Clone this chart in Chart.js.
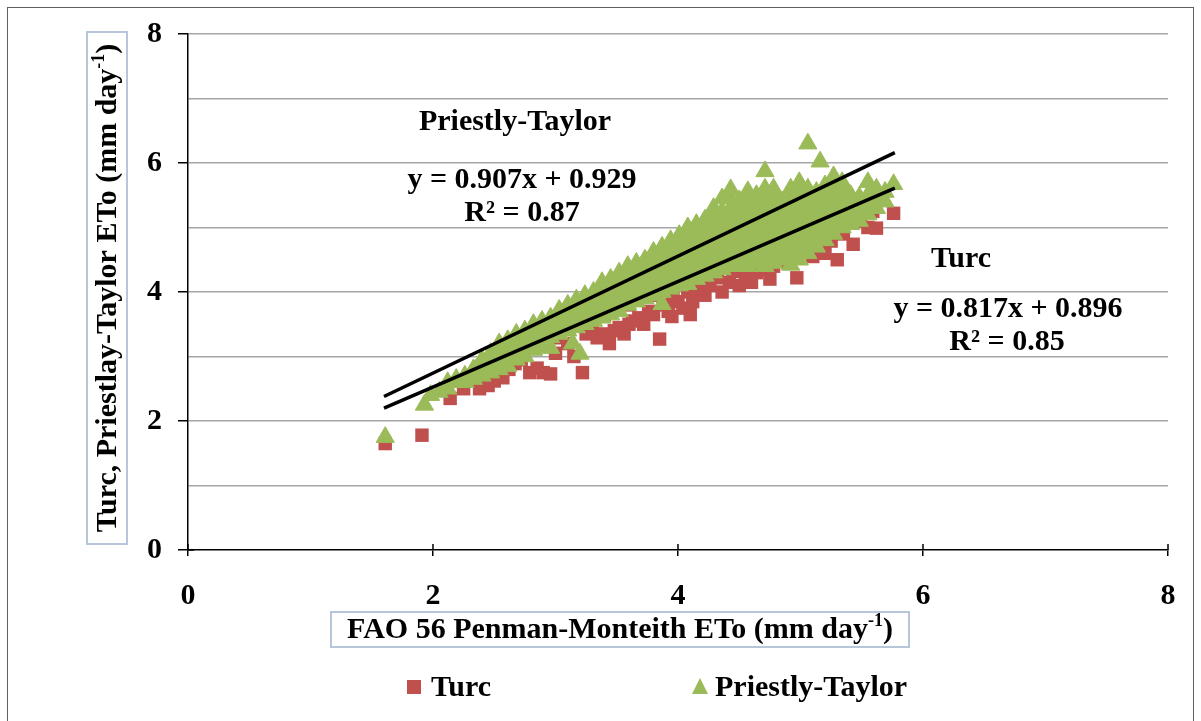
<!DOCTYPE html>
<html><head><meta charset="utf-8">
<script src="https://cdn.jsdelivr.net/npm/chart.js@4.4.0/dist/chart.umd.min.js"></script>
<style>html,body{margin:0;padding:0;background:#fff;}canvas{display:block;}</style>
</head><body>
<canvas id="c" width="1201" height="721"></canvas>
<script>
// ---------------- data ----------------
const xTickValues = [0, 2, 4, 6, 8];
const yTickValues = [0, 2, 4, 6, 8];
const seriesNames = ['Turc', 'Priestly-Taylor'];
const xTitleMain = 'FAO 56 Penman-Monteith ETo (mm day';
const yTitleMain = 'Turc, Priestlay-Taylor ETo (mm day';
const titleSup = '-1';

// Turc ETo vs FAO-56 PM ETo  [x, y]
const turcPts = [
[1.61,1.65],[1.91,1.78],[2.14,2.35],[2.25,2.5],[2.38,2.5],[2.45,2.55],[2.5,2.62],[2.57,2.67],[2.62,2.8],[2.67,2.89],
[2.72,2.95],[2.79,2.75],[2.85,2.82],[2.9,2.75],[2.96,2.73],[3.0,3.05],[3.04,3.29],[3.1,3.2],[3.15,3.0],[3.22,2.75],
[3.25,3.35],[3.3,3.4],[3.34,3.29],[3.38,3.35],[3.44,3.2],[3.48,3.4],[3.52,3.45],[3.56,3.35],[3.6,3.5],[3.63,3.55],
[3.68,3.6],[3.72,3.5],[3.76,3.7],[3.8,3.65],[3.85,3.27],[3.88,3.8],[3.92,3.7],[3.95,3.62],[3.96,3.9],[4.0,3.85],
[4.04,3.75],[4.08,4.0],[4.1,3.65],[4.12,3.85],[4.15,4.05],[4.18,4.12],[4.22,3.95],[4.26,4.1],[4.32,4.22],[4.36,4.0],
[4.42,4.15],[4.45,4.32],[4.5,4.1],[4.55,4.25],[4.6,4.15],[4.64,4.3],[4.7,4.35],[4.75,4.2],[4.78,4.4],[4.85,4.5],
[4.9,4.45],[4.97,4.22],[5.02,4.65],[5.1,4.55],[5.15,4.75],[5.2,4.6],[5.25,4.79],[5.3,4.5],[5.35,4.9],[5.43,4.74],
[5.49,5.1],[5.55,5.0],[5.59,5.25],[5.62,4.99],[5.76,5.22],[5.27,5.37],[5.45,5.3],[5.0,5.05],[4.8,4.85],[4.6,4.7],
[4.4,4.5],[4.2,4.35],[4.0,4.15],[3.8,3.95],[3.6,3.8],[3.4,3.65],[3.2,3.5],[3.0,3.3],[2.8,3.15],[2.6,3.0],[2.4,2.85]
];

// Priestly-Taylor ETo: each entry = [x, [y values read at that x]]
const ptCols = [
[1.61,[1.75]],[1.93,[2.25]],[1.98,[2.4]],[2.05,[2.45]],[2.12,[2.5,2.6]],[2.19,[2.6,2.65]],[2.26,[2.6,2.7]],
[2.33,[2.65,2.8]],[2.40,[2.7,2.85,2.95]],[2.47,[2.75,2.9,3.05]],[2.54,[2.8,2.95,3.1,3.2]],[2.61,[2.85,3.0,3.15,3.25]],
[2.68,[2.95,3.1,3.25,3.35]],[2.75,[3.0,3.15,3.3,3.4]],[2.82,[3.1,3.25,3.4,3.5]],[2.89,[3.15,3.3,3.45,3.55]],
[2.96,[3.13,3.3,3.45,3.6]],[3.03,[3.35,3.5,3.65,3.72]],[3.10,[3.4,3.55,3.7,3.8]],[3.14,[3.2]],[3.17,[3.45,3.6,3.75,3.88]],
[3.20,[3.04]],[3.24,[3.5,3.65,3.8,3.95]],[3.31,[3.55,3.7,3.85,4.0]],[3.38,[3.6,3.75,3.9,4.05,4.15]],
[3.45,[3.65,3.8,3.95,4.1,4.2]],[3.52,[3.7,3.85,4.0,4.15,4.3]],[3.59,[3.8,3.95,4.1,4.25,4.4]],[3.66,[3.85,4.0,4.15,4.3,4.45]],
[3.73,[3.9,4.05,4.2,4.35,4.5]],[3.80,[3.95,4.1,4.25,4.4,4.55,4.62]],[3.87,[3.81,4.0,4.15,4.3,4.45,4.6,4.7]],
[3.94,[4.05,4.2,4.35,4.5,4.65,4.8]],[4.01,[4.1,4.25,4.4,4.55,4.7,4.88]],[4.08,[4.12,4.3,4.45,4.6,4.75,4.9,5.0]],
[4.15,[4.2,4.35,4.5,4.65,4.8,4.95,5.05]],[4.22,[4.25,4.4,4.55,4.7,4.85,5.0,5.12]],[4.29,[4.3,4.45,4.6,4.75,4.9,5.05,5.2,5.3]],
[4.36,[4.35,4.5,4.65,4.8,4.95,5.1,5.25,5.45]],[4.43,[4.4,4.55,4.7,4.85,5.0,5.15,5.3,5.45,5.59]],
[4.50,[4.4,4.55,4.7,4.85,5.0,5.15,5.3,5.42]],[4.57,[4.4,4.55,4.7,4.85,5.0,5.15,5.3,5.45,5.56]],
[4.64,[4.45,4.6,4.75,4.9,5.05,5.2,5.35,5.5]],[4.71,[4.4,4.55,4.7,4.85,5.0,5.15,5.3,5.45,5.6,5.87]],
[4.78,[4.45,4.6,4.75,4.9,5.05,5.2,5.35,5.5,5.6]],[4.85,[4.5,4.65,4.8,4.95,5.1,5.25,5.4]],
[4.92,[4.42,4.6,4.75,4.9,5.05,5.2,5.35,5.5,5.6]],[4.99,[4.5,4.7,4.85,5.0,5.15,5.3,5.45,5.6,5.7]],
[5.06,[4.6,4.75,4.9,5.05,5.2,5.35,5.5,5.6,6.3]],[5.13,[4.7,4.85,5.0,5.15,5.3,5.45,5.55]],[5.16,[6.02]],
[5.20,[4.8,4.95,5.1,5.25,5.4,5.55,5.65]],[5.27,[4.9,5.05,5.2,5.35,5.5,5.65,5.79]],[5.34,[5.0,5.15,5.3,5.45,5.6,5.7]],
[5.41,[5.05,5.2,5.35,5.5]],[5.48,[5.1,5.25,5.4,5.47]],[5.55,[5.2,5.35,5.5,5.7]],[5.62,[5.3,5.45,5.6]],
[5.69,[5.4,5.55]],[5.76,[5.67]]
];

// fitted trend lines (end points)
const ptTrend = [[1.6, 2.38], [5.77, 6.16]];
const turcTrend = [[1.6, 2.2], [5.77, 5.61]];

const ptLabel = 'Priestly-Taylor';
const ptEq = 'y = 0.907x + 0.929';
const ptR2 = 'R² = 0.87';
const turcLabel = 'Turc';
const turcEq = 'y = 0.817x + 0.896';
const turcR2 = 'R² = 0.85';

// ---------------- build ----------------
const toXY = a => a.map(p => ({x: p[0], y: p[1]}));
const ptPts = [];
ptCols.forEach(c => c[1].forEach(v => ptPts.push({x: c[0], y: v})));

const RED = '#C0504D', GREEN = '#9BBB59';
const FONT = '"Liberation Serif", "Times New Roman", serif';

const decor = {
  id: 'decor',
  beforeDraw(chart) {
    const ctx = chart.ctx;
    ctx.save(); ctx.fillStyle = '#fff'; ctx.fillRect(0, 0, chart.width, chart.height); ctx.restore();
  },
  afterDraw(chart) {
    const ctx = chart.ctx, xs = chart.scales.x, ys = chart.scales.y;
    ctx.save();
    // outer frame
    ctx.strokeStyle = '#606060'; ctx.lineWidth = 1;
    ctx.strokeRect(7.5, 7.5, 1186, 740);
    // x ticks crossing into the plot
    ctx.strokeStyle = '#000'; ctx.lineWidth = 1.5;
    xTickValues.forEach(v => {
      const px = Math.round(xs.getPixelForValue(v));
      ctx.beginPath(); ctx.moveTo(px, ys.bottom - 6); ctx.lineTo(px, ys.bottom); ctx.stroke();
    });
    const yb = ys.getPixelForValue(0);
    ctx.beginPath(); ctx.moveTo(xs.left, yb); ctx.lineTo(xs.left + 6, yb); ctx.stroke();

    function supText(main, cx, cy) {
      ctx.font = 'bold 30px ' + FONT;
      const w1 = ctx.measureText(main).width;
      ctx.font = 'bold 18px ' + FONT;
      const w2 = ctx.measureText(titleSup).width;
      ctx.font = 'bold 30px ' + FONT;
      const w3 = ctx.measureText(')').width;
      let x = cx - (w1 + w2 + w3) / 2;
      ctx.textAlign = 'left'; ctx.textBaseline = 'middle'; ctx.fillStyle = '#000';
      ctx.fillText(main, x, cy); x += w1;
      ctx.font = 'bold 18px ' + FONT; ctx.fillText(titleSup, x, cy - 9); x += w2;
      ctx.font = 'bold 30px ' + FONT; ctx.fillText(')', x, cy);
    }
    // y title box
    ctx.strokeStyle = '#b8c6d9'; ctx.lineWidth = 2;
    ctx.strokeRect(87, 32, 40, 512);
    ctx.save(); ctx.translate(108, 288); ctx.rotate(-Math.PI / 2);
    supText(yTitleMain, 0, 0);
    ctx.restore();
    // x title box
    ctx.strokeStyle = '#b8c6d9'; ctx.lineWidth = 2;
    ctx.strokeRect(331, 612, 578, 35);
    supText(xTitleMain, 620, 630);

    // legend
    ctx.fillStyle = RED; ctx.fillRect(407, 680, 14, 14);
    ctx.fillStyle = GREEN; ctx.beginPath();
    ctx.moveTo(700, 678); ctx.lineTo(708, 694); ctx.lineTo(692, 694); ctx.closePath(); ctx.fill();
    ctx.fillStyle = '#000'; ctx.font = 'bold 30px ' + FONT; ctx.textAlign = 'left'; ctx.textBaseline = 'middle';
    ctx.fillText(seriesNames[0], 431, 688);
    ctx.fillText(seriesNames[1], 715, 688);

    // equations
    ctx.textAlign = 'center';
    ctx.fillText(ptLabel, 515, 122);
    ctx.fillText(ptEq, 522, 180);
    ctx.fillText(ptR2, 522, 213);
    ctx.fillText(turcLabel, 961, 259);
    ctx.fillText(turcEq, 1008, 309);
    ctx.fillText(turcR2, 1007, 342);
    ctx.restore();
  }
};

new Chart(document.getElementById('c'), {
  type: 'scatter',
  data: {
    datasets: [
      {label: 'PT trend', data: toXY(ptTrend), showLine: true, borderColor: '#000', borderWidth: 3.5, pointRadius: 0, order: 0},
      {label: 'Turc trend', data: toXY(turcTrend), showLine: true, borderColor: '#000', borderWidth: 3.5, pointRadius: 0, order: 0},
      {label: seriesNames[1], data: ptPts, pointStyle: 'triangle', pointRadius: 10.5, backgroundColor: GREEN, borderColor: GREEN, borderWidth: 1, order: 1},
      {label: seriesNames[0], data: toXY(turcPts), pointStyle: 'rect', pointRadius: 9.5, backgroundColor: RED, borderColor: RED, borderWidth: 0, order: 2}
    ]
  },
  options: {
    responsive: false, animation: false, devicePixelRatio: 1,
    layout: {padding: {left: 0, right: 33, top: 32, bottom: 0}},
    plugins: {legend: {display: false}, tooltip: {enabled: false}},
    scales: {
      x: {
        type: 'linear', min: 0, max: 8,
        afterFit: s => { s.height = 171; },
        afterBuildTicks: s => { s.ticks = xTickValues.map(v => ({value: v})); },
        ticks: {stepSize: 2, color: '#000', font: {family: FONT, size: 30, weight: 'bold'}, padding: 22, maxRotation: 0, autoSkip: false},
        grid: {drawOnChartArea: false, drawTicks: true, tickLength: 6, color: '#000', lineWidth: 1.5},
        border: {color: '#000', width: 1.5}
      },
      y: {
        type: 'linear', min: 0, max: 8,
        afterFit: s => { s.width = 188; },
        ticks: {stepSize: 1, color: '#000', font: {family: FONT, size: 30, weight: 'bold'}, padding: 16, autoSkip: false,
          callback: v => (yTickValues.includes(v) ? String(v) : '')},
        grid: {drawTicks: true, tickLength: 10, lineWidth: 1.5, tickWidth: 1.5,
          color: c => (c.tick && c.tick.value === 0) ? 'rgba(0,0,0,0)' : '#a6a6a6',
          tickColor: c => (c.tick && yTickValues.includes(c.tick.value)) ? '#000' : 'rgba(0,0,0,0)'},
        border: {color: '#000', width: 1.5}
      }
    }
  },
  plugins: [decor]
});
</script>
</body></html>
